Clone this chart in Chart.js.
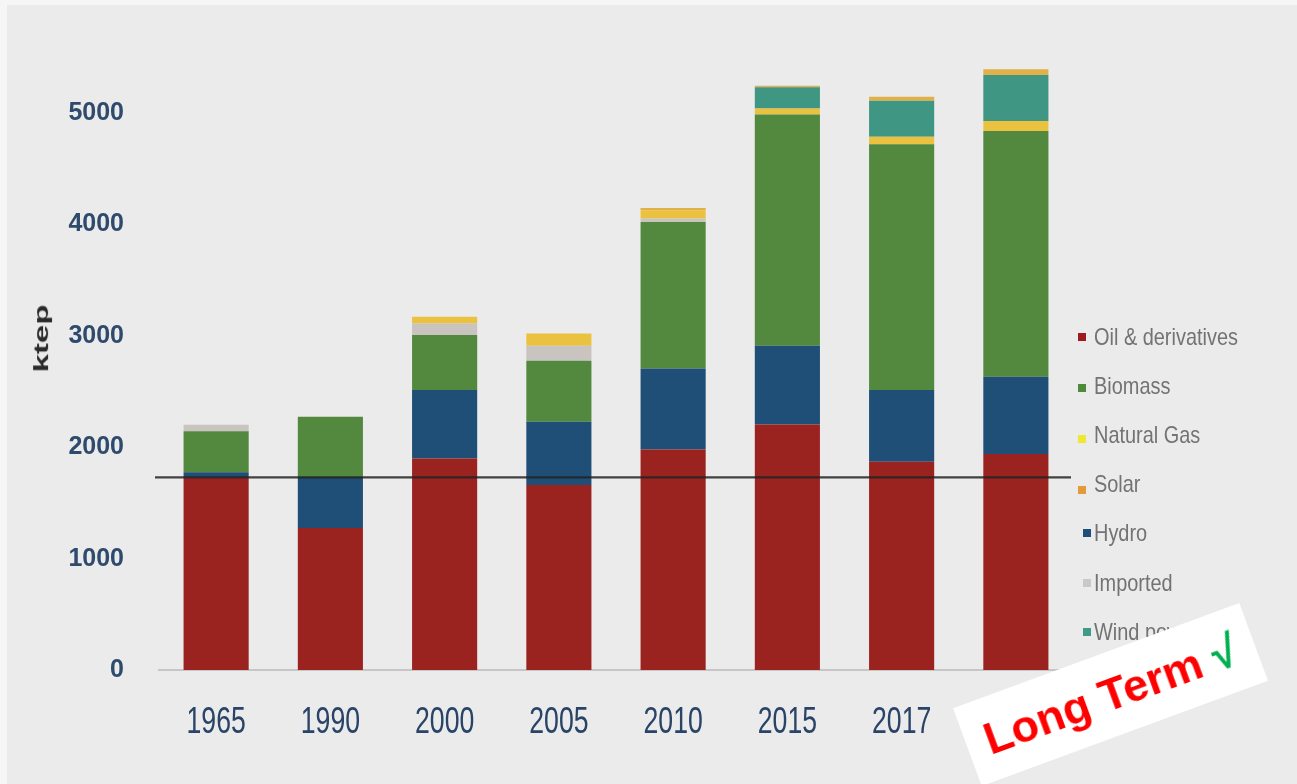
<!DOCTYPE html>
<html>
<head>
<meta charset="utf-8">
<script src="https://cdn.jsdelivr.net/npm/chart.js@4.4.1/dist/chart.umd.min.js"></script>
<style>
  html, body { margin: 0; padding: 0; }
  body { width: 1297px; height: 784px; background: #F6F6F6; position: relative; overflow: hidden; }
  #bg { position: absolute; left: 7px; top: 5px; width: 1290px; height: 779px; background: #EBEBEB; }
  #chart { position: absolute; left: 0; top: 0; }
  .ytitle { position: absolute; left: 0; top: 0; font-family: 'Liberation Sans', Arial, sans-serif; font-weight: bold;
            font-size: 21px; line-height: 21px; color: #2A2A2A; white-space: nowrap; }
  .leg { position: absolute; font-family: 'Liberation Sans', Arial, sans-serif; transform-origin: 0 50%;
         transform: scaleX(0.83); font-size: 24px; line-height: 28px; color: #737373; white-space: nowrap; }
  .mk { position: absolute; width: 8px; height: 8px; }
  #stamp { position: absolute; width: 305px; height: 83px; background: #FFFFFF; left: 957.5px; top: 652.7px;
           transform: rotate(-20.2deg); display: flex; align-items: center; justify-content: center;
           font-family: 'Liberation Sans', Arial, sans-serif; font-weight: bold; font-size: 45px; white-space: nowrap; }
  #stamp .r { color: #FF0000; }
  #stamp .g { color: #00B050; }
</style>
</head>
<body>
<div id="bg"></div>
<canvas id="chart" width="1297" height="784"></canvas>
<div id="ytitle" class="ytitle">ktep</div>
<div id="legend"></div>
<div id="stamp"><span class="r">Long Term&nbsp;</span><span class="g">√</span></div>
<script>
// ---- data ----
const categories = ['1965', '1990', '2000', '2005', '2010', '2015', '2017', '2018'];
const oil        = [1730, 1275, 1900, 1660, 1980, 2205, 1870, 1940];
const hydro      = [45, 458, 613, 568, 727, 706, 644, 694];
const biomass    = [368, 541, 494, 548, 1316, 2077, 2206, 2206];
const imported   = [60, 0, 105, 135, 30, 0, 0, 0];
const naturalGas = [0, 0, 60, 111, 75, 54, 68, 90];
const wind       = [0, 0, 0, 0, 0, 189, 323, 413];
const solar      = [0, 0, 0, 0, 20, 15, 36, 51];
const yTicks     = [0, 1000, 2000, 3000, 4000, 5000];
const referenceLine = 1730;
const yAxisTitle = 'ktep';
const legendNames = ['Oil & derivatives', 'Biomass', 'Natural Gas', 'Solar', 'Hydro', 'Imported', 'Wind power'];

// ---- styles ----
const barColors = {
  oil: '#9A2320', hydro: '#1F4E76', biomass: '#52893F', imported: '#C9C4C0',
  naturalGas: '#EBC140', wind: '#3F9683', solar: '#E2B048'
};
const legendColors = ['#9B1B1E', '#4F8A3B', '#EEE833', '#E39A3B', '#1F4E79', '#C9C9C9', '#3F9A86'];

const datasets = [
  { label: 'Oil & derivatives', data: oil, backgroundColor: barColors.oil },
  { label: 'Hydro', data: hydro, backgroundColor: barColors.hydro },
  { label: 'Biomass', data: biomass, backgroundColor: barColors.biomass },
  { label: 'Imported', data: imported, backgroundColor: barColors.imported },
  { label: 'Natural Gas', data: naturalGas, backgroundColor: barColors.naturalGas },
  { label: 'Wind power', data: wind, backgroundColor: barColors.wind },
  { label: 'Solar', data: solar, backgroundColor: barColors.solar }
].map(d => Object.assign(d, { borderWidth: 0, categoryPercentage: 1, barPercentage: 0.57 }));

const refLinePlugin = {
  id: 'refLine',
  afterDatasetsDraw(chart) {
    const { ctx, chartArea, scales } = chart;
    const y = scales.y.getPixelForValue(referenceLine);
    ctx.save();
    ctx.strokeStyle = 'rgba(35,35,35,0.85)';
    ctx.lineWidth = 2.2;
    ctx.beginPath();
    ctx.moveTo(chartArea.left - 4, y);
    ctx.lineTo(chartArea.right - 2, y);
    ctx.stroke();
    ctx.restore();
  }
};

// category labels drawn at the x scale's tick positions, condensed like the reference
const xLabelPlugin = {
  id: 'xLabels',
  afterDraw(chart) {
    const { ctx, scales } = chart;
    const xs = scales.x;
    ctx.save();
    ctx.font = '37px "Liberation Sans", Arial, sans-serif';
    ctx.fillStyle = '#2A4467';
    ctx.textAlign = 'center';
    ctx.textBaseline = 'alphabetic';
    xs.ticks.forEach((t, i) => {
      const x = xs.getPixelForTick(i);
      ctx.save();
      ctx.translate(x, xs.bottom - 114 + 63);
      ctx.scale(0.72, 1);
      ctx.fillText(categories[i], 0, 0);
      ctx.restore();
    });
    ctx.restore();
  }
};

const chart = new Chart(document.getElementById('chart'), {
  type: 'bar',
  data: { labels: categories, datasets },
  plugins: [refLinePlugin, xLabelPlugin],
  options: {
    responsive: false,
    animation: false,
    layout: { padding: { top: 24, right: 224, left: 0, bottom: 0 } },
    plugins: { legend: { display: false }, tooltip: { enabled: false } },
    scales: {
      x: {
        stacked: true,
        grid: { display: false, drawTicks: false },
        border: { display: true, color: '#C6C6C6', width: 2 },
        ticks: { display: false, autoSkip: false },
        afterFit(s) { s.height = 114; s.paddingLeft = 0; s.paddingRight = 0; }
      },
      y: {
        stacked: true, min: 0, max: 5800,
        grid: { display: false, drawTicks: false },
        border: { display: false },
        afterBuildTicks(s) { s.ticks = yTicks.map(v => ({ value: v })); },
        ticks: {
          font: { family: "'Liberation Sans', Arial, sans-serif", size: 25, weight: 'bold' },
          color: '#2E4A6C', padding: 35,
          callback: v => String(v)
        },
        afterFit(s) { s.width = 159; s.paddingTop = 0; s.paddingBottom = 0; }
      }
    }
  }
});

// y-axis title (stretched like the reference)
const yt = document.getElementById('ytitle');
yt.textContent = yAxisTitle;
const w = yt.offsetWidth;
yt.style.left = (40 - w / 2) + 'px';
yt.style.top = (338 - 10.5) + 'px';
yt.style.transform = 'rotate(-90deg) scale(1.57, 1)';

// legend
const legend = document.getElementById('legend');
const legendMarkerDx = [0, 0, 0, 0, 5, 5, 5];
const legendMarkerDy = [0, 2, 4, 6, 0, 0, 0];
legendNames.forEach((name, i) => {
  const cy = 336.5 + i * 49.2;
  const t = document.createElement('div');
  t.className = 'leg';
  t.textContent = name;
  t.style.left = '1094px';
  t.style.top = (cy - 14) + 'px';
  legend.appendChild(t);
  const m = document.createElement('div');
  m.className = 'mk';
  m.style.background = legendColors[i];
  m.style.left = (1078 + legendMarkerDx[i]) + 'px';
  m.style.top = (cy - 4 + legendMarkerDy[i]) + 'px';
  legend.appendChild(m);
});
</script>
</body>
</html>
